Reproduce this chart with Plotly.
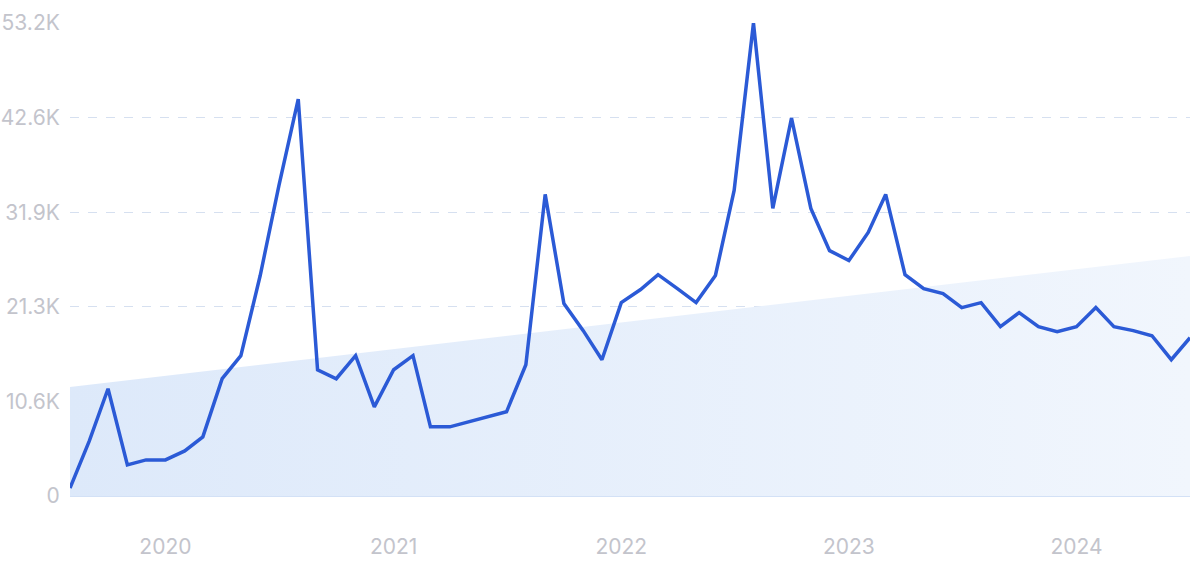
import plotly.graph_objects as go
import pandas as pd

months = pd.date_range("2019-08-01", "2024-07-01", freq="MS")
searches = [900, 6200, 12060, 3500, 4060, 4060, 5070, 6650, 13190, 15780,
            24800, 34900, 44630, 14200, 13190, 15780, 10030, 14200, 15780, 7780,
            7780, 8340, 8900, 9470, 14760, 33920, 21640, 18600, 15330, 21750,
            23220, 24900, 23330, 21750, 24800, 34370, 53200, 32350, 42490, 32350,
            27600, 26480, 29640, 33920, 24900, 23330, 22770, 21190, 21750, 19050,
            20620, 19050, 18480, 19050, 21190, 19050, 18600, 18030, 15330, 17800]

trend_x = [months[0], months[-1]]
trend_y = [12260, 27000]

ytick_vals = [0, 10640, 21280, 31920, 42560, 53200]
ytick_text = ["0", "10.6K", "21.3K", "31.9K", "42.6K", "53.2K"]
xtick_vals = ["2020-01-01", "2021-01-01", "2022-01-01", "2023-01-01", "2024-01-01"]
xtick_text = ["2020", "2021", "2022", "2023", "2024"]

fig = go.Figure()
fig.add_trace(go.Scatter(
    x=trend_x, y=trend_y, mode="lines", line=dict(width=0),
    fill="tozeroy",
    fillgradient=dict(type="horizontal",
                      colorscale=[[0, "#dde9fa"], [1, "#f1f6fd"]]),
    hoverinfo="skip", showlegend=False))
fig.add_trace(go.Scatter(
    x=months, y=searches, mode="lines",
    line=dict(color="#2b5ad6", width=3.5),
    cliponaxis=False, showlegend=False))

fig.update_layout(
    width=1200, height=563,
    margin=dict(l=70, r=10, t=23, b=67),
    paper_bgcolor="white", plot_bgcolor="white",
    font=dict(family="Inter, Open Sans, sans-serif", size=21, color="#c3c4cc"),
    xaxis=dict(range=[months[0], months[-1]], tickvals=xtick_vals, ticktext=xtick_text,
               showgrid=False, zeroline=False, showline=False, automargin=False,
               ticks="outside", ticklen=32, tickcolor="rgba(0,0,0,0)"),
    yaxis=dict(range=[0, 53200], tickvals=ytick_vals, ticktext=ytick_text,
               showgrid=True, gridcolor="#d6e0f0", griddash="dash", gridwidth=1,
               zeroline=True, zerolinecolor="#d3e1f6", zerolinewidth=2,
               showline=False, ticks="outside", ticklen=5, automargin=False,
               tickcolor="rgba(0,0,0,0)"),
)
fig.write_html("out.html", config={"displayModeBar": False},
               post_script="document.body.style.margin='0';document.body.style.overflow='hidden';")
